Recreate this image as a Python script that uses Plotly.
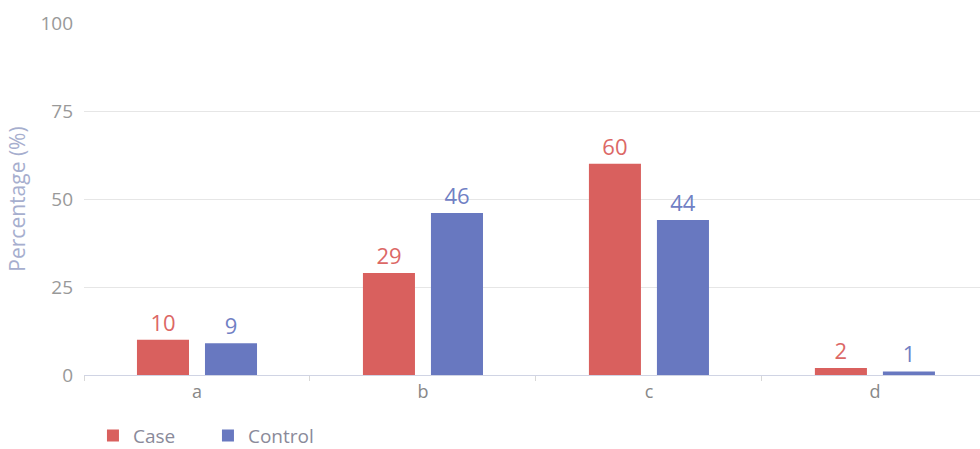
import plotly.graph_objects as go

categories = ["a", "b", "c", "d"]
case_values = [10, 29, 60, 2]
control_values = [9, 46, 44, 1]
y_ticks = [0, 25, 50, 75, 100]

CASE_COLOR = "#d9605e"
CONTROL_COLOR = "#6878c0"

fig = go.Figure()
fig.add_trace(go.Bar(
    name="Case", x=categories, y=case_values,
    marker=dict(color=CASE_COLOR, line=dict(width=0)),
    text=[str(v) for v in case_values], textposition="outside",
    textfont=dict(color="#dc6866", size=22), cliponaxis=False,
))
fig.add_trace(go.Bar(
    name="Control", x=categories, y=control_values,
    marker=dict(color=CONTROL_COLOR, line=dict(width=0)),
    text=[str(v) for v in control_values], textposition="outside",
    textfont=dict(color="#7080c4", size=22), cliponaxis=False,
))

fig.update_layout(
    width=980, height=449,
    margin=dict(l=84, r=0, t=23, b=74, autoexpand=False),
    paper_bgcolor="white", plot_bgcolor="white",
    font=dict(family="Open Sans", color="#999999", size=16),
    barmode="group", bargap=0.398, bargroupgap=0.235,
    showlegend=True,
    legend=dict(orientation="h", x=0.01, xanchor="left", y=-0.172, yanchor="middle",
                font=dict(size=19, color="#8a8a9a"), itemsizing="constant",
                entrywidth=70, entrywidthmode="pixels",
                traceorder="normal"),
    xaxis=dict(
        range=[-0.5, 3.465], showgrid=False, automargin=False,
        showline=True, linecolor="#d0d4e4", linewidth=1,
        ticks="outside", tickson="boundaries", ticklen=5, tickcolor="#d8d8d8",
        tickfont=dict(size=18, color="#888888"),
    ),
    yaxis=dict(
        range=[0, 100], tickvals=y_ticks, showgrid=True, gridcolor="#e6e6e6",
        zeroline=False, ticks="", automargin=False,
        tickfont=dict(size=19, color="#999999"), ticklabelstandoff=10,
        title=dict(text="Percentage (%)", font=dict(size=21, color="#a6aece"), standoff=9),
    ),
)

fig.write_html(
    "out.html",
    config={"displayModeBar": False},
    post_script="document.body.style.margin='0';document.body.style.overflow='hidden';",
)
